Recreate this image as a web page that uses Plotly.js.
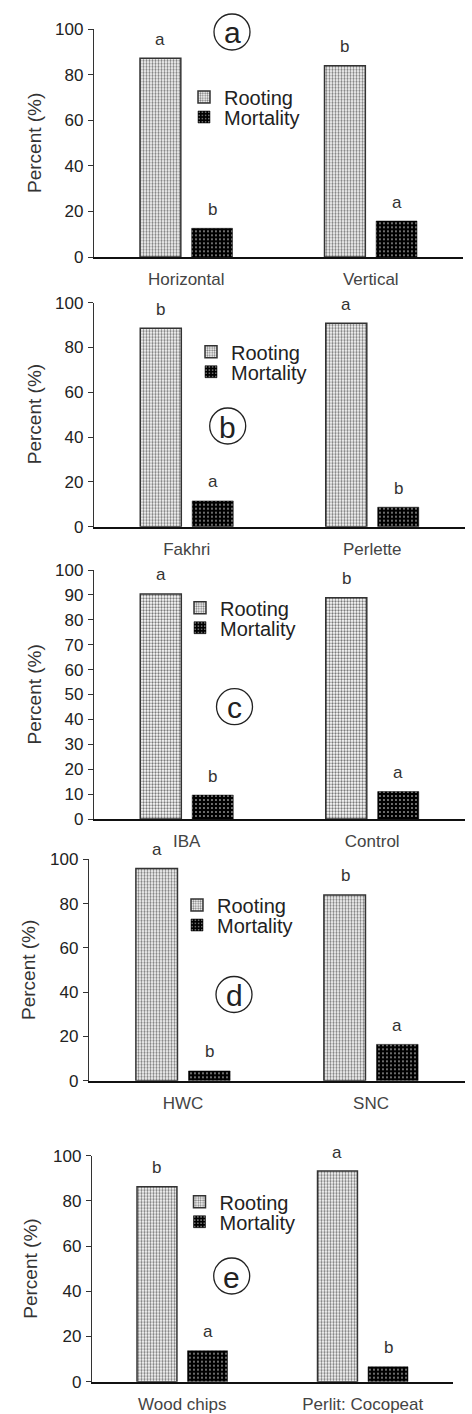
<!DOCTYPE html>
<html>
<head>
<meta charset="utf-8">
<script src="https://cdn.plot.ly/plotly-3.0.1.min.js"></script>
<style>html,body{margin:0;padding:0;background:#fff;}#chart{width:472px;height:1414px;}</style>
</head>
<body>
<div id="chart"></div>
<script>
// ---- data ----
var catsA = ['Horizontal', 'Vertical'];
var rootingA = [87.3, 84.0];
var mortalityA = [12.6, 15.8];
var rootLetA = ['a', 'b'];
var mortLetA = ['b', 'a'];

var catsB = ['Fakhri', 'Perlette'];
var rootingB = [88.6, 90.8];
var mortalityB = [11.5, 8.7];
var rootLetB = ['b', 'a'];
var mortLetB = ['a', 'b'];

var catsC = ['IBA', 'Control'];
var rootingC = [90.4, 88.9];
var mortalityC = [9.6, 11.0];
var rootLetC = ['a', 'b'];
var mortLetC = ['b', 'a'];

var catsD = ['HWC', 'SNC'];
var rootingD = [95.8, 83.9];
var mortalityD = [4.4, 16.4];
var rootLetD = ['a', 'b'];
var mortLetD = ['b', 'a'];

var catsE = ['Wood chips', 'Perlit: Cocopeat'];
var rootingE = [86.3, 93.2];
var mortalityE = [13.7, 6.6];
var rootLetE = ['b', 'a'];
var mortLetE = ['a', 'b'];

var panelLabels = ['a', 'b', 'c', 'd', 'e'];
var seriesNames = ['Rooting', 'Mortality'];
var yTickStep = [20, 20, 10, 20, 20];
var yTitle = 'Percent (%)';

// ---- layout geometry (pixels) ----
var W = 472, H = 1414;
var FONT = 'Liberation Sans, Arial, sans-serif';
function px(x) { return x / W; }
function py(y) { return 1 - y / H; }

var panels = [
  {cats: catsA, r: rootingA, m: mortalityA, rl: rootLetA, ml: mortLetA,
   x0: 94, x1: 463, yt: 29.3, yb: 257, circ: [232, 32], leg: [209, 97, 117], ttl: [34, 143]},
  {cats: catsB, r: rootingB, m: mortalityB, rl: rootLetB, ml: mortLetB,
   x0: 94, x1: 465, yt: 302.7, yb: 526.7, circ: [227.7, 426], leg: [216, 351.7, 371.7], ttl: [34.5, 414.7]},
  {cats: catsC, r: rootingC, m: mortalityC, rl: rootLetC, ml: mortLetC,
   x0: 94, x1: 465, yt: 570, yb: 819, circ: [234.5, 706.7], leg: [205, 607.7, 627.7], ttl: [34, 694.5]},
  {cats: catsD, r: rootingD, m: mortalityD, rl: rootLetD, ml: mortLetD,
   x0: 89, x1: 465, yt: 859.3, yb: 1080.7, circ: [234, 994.5], leg: [202, 905, 925], ttl: [28, 970]},
  {cats: catsE, r: rootingE, m: mortalityE, rl: rootLetE, ml: mortLetE,
   x0: 92, x1: 453, yt: 1155.7, yb: 1381.7, circ: [231.7, 1276], leg: [204.5, 1201.7, 1221.7], ttl: [31, 1268.7]}
];

var data = [];
var layout = {
  width: W, height: H,
  margin: {l: 0, r: 0, t: 0, b: 0},
  paper_bgcolor: '#fff', plot_bgcolor: 'rgba(0,0,0,0)',
  barmode: 'group', bargap: 0.44, bargroupgap: 0.21,
  font: {family: FONT, color: '#333'},
  annotations: [], shapes: [],
  showlegend: true
};

panels.forEach(function (p, i) {
  var sfx = i === 0 ? '' : String(i + 1);
  var xa = 'x' + sfx, ya = 'y' + sfx;
  var legR = i === 0 ? 'legend' : 'legend' + (2 * i + 1);
  var legM = 'legend' + (2 * i + 2);

  data.push({
    type: 'bar', name: seriesNames[0], x: p.cats, y: p.r, xaxis: xa, yaxis: ya,
    legend: legR,
    marker: {color: '#ffffff', line: {color: '#333', width: 1.5},
      pattern: {shape: '.', fgcolor: '#7a7a7a', bgcolor: '#ffffff', size: 3, solidity: 0.45}},
    hoverinfo: 'x+y+name'
  });
  data.push({
    type: 'bar', name: seriesNames[1], x: p.cats, y: p.m, xaxis: xa, yaxis: ya,
    legend: legM,
    marker: {color: '#000000', line: {color: '#000', width: 0.5},
      pattern: {shape: '.', fgcolor: '#ffffff', bgcolor: '#000000', size: 4, solidity: 0.12}},
    hoverinfo: 'x+y+name'
  });

  layout['xaxis' + sfx] = {
    domain: [px(p.x0), px(p.x1)], anchor: ya, range: [-0.5, 1.5],
    showline: true, linecolor: '#111', linewidth: 2, ticks: '',
    showgrid: false, zeroline: false, fixedrange: true,
    tickfont: {size: 17, color: '#444', family: FONT}, ticklabelstandoff: 6
  };
  layout['yaxis' + sfx] = {
    domain: [py(p.yb), py(p.yt)], anchor: xa, range: [0, 100], dtick: yTickStep[i],
    showline: true, linecolor: '#333', linewidth: 1.2,
    ticks: 'outside', ticklen: 5, tickwidth: 1, tickcolor: '#333',
    showgrid: false, zeroline: false, fixedrange: true,
    tickfont: {size: 17, color: '#222', family: FONT}, ticklabelstandoff: 1
  };

  // legends (one per entry to control spacing)
  [legR, legM].forEach(function (lg, k) {
    layout[lg] = {
      x: px(p.leg[0] - 25), y: py(p.leg[1 + k]), xref: 'paper', yref: 'paper',
      xanchor: 'left', yanchor: 'middle', bgcolor: 'rgba(0,0,0,0)', borderwidth: 0,
      font: {size: 20, color: '#222', family: FONT}, itemclick: false, itemdoubleclick: false
    };
  });

  // significance letters
  for (var j = 0; j < p.cats.length; j++) {
    layout.annotations.push({x: p.cats[j], y: p.r[j], xref: xa, yref: ya, text: p.rl[j],
      showarrow: false, xshift: -26, yshift: 19, yanchor: 'middle',
      font: {size: 17, color: '#333', family: FONT}});
    layout.annotations.push({x: p.cats[j], y: p.m[j], xref: xa, yref: ya, text: p.ml[j],
      showarrow: false, xshift: 26, yshift: 19, yanchor: 'middle',
      font: {size: 17, color: '#333', family: FONT}});
  }

  // y axis title
  layout.annotations.push({x: px(p.ttl[0]), y: py(p.ttl[1]), xref: 'paper', yref: 'paper',
    text: yTitle, textangle: -90, showarrow: false, xanchor: 'center', yanchor: 'middle',
    font: {size: 19, color: '#333', family: FONT}});

  // circled panel label
  var r = 18;
  layout.shapes.push({type: 'circle', xref: 'paper', yref: 'paper',
    x0: px(p.circ[0] - r), x1: px(p.circ[0] + r), y0: py(p.circ[1] + r), y1: py(p.circ[1] - r),
    line: {color: '#222', width: 1.3}});
  layout.annotations.push({x: px(p.circ[0]), y: py(p.circ[1] + 1), xref: 'paper', yref: 'paper',
    text: panelLabels[i], showarrow: false, xanchor: 'center', yanchor: 'middle',
    font: {size: 30, color: '#222', family: FONT}});
});

Plotly.newPlot('chart', data, layout, {displayModeBar: false, staticPlot: true});
</script>
</body>
</html>
